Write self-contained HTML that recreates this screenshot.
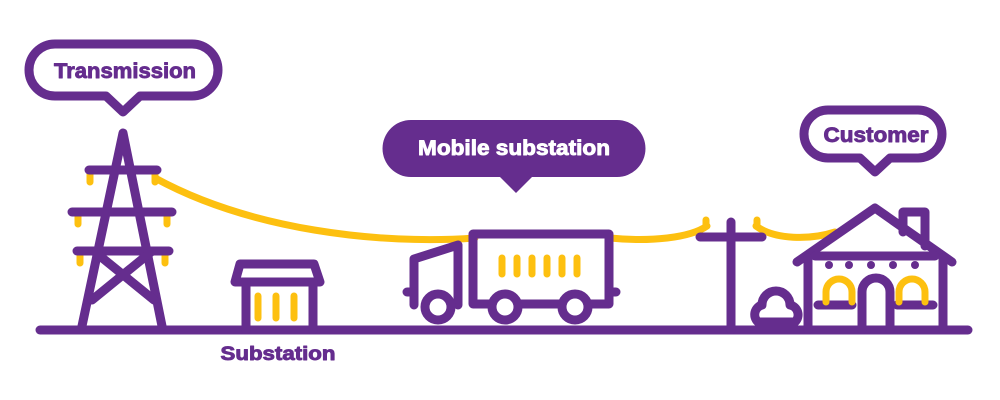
<!DOCTYPE html>
<html><head><meta charset="utf-8"><style>
html,body{margin:0;padding:0;background:#fff;width:1000px;height:400px;overflow:hidden}
text{font-family:"Liberation Sans",sans-serif;font-weight:bold;stroke-width:0.9;stroke-linejoin:round}
</style></head><body>
<svg width="1000" height="400" viewBox="0 0 1000 400" xmlns="http://www.w3.org/2000/svg">
<g fill="none" stroke-linecap="round" stroke-linejoin="round">
<g stroke="#fdc010" stroke-width="7">
<path d="M155,178 C250,230 380,245 475,238"/>
<path d="M610,238 C650,242 690,238 707,226"/>
<path d="M756,226 C775,240 810,240 835,232"/>
<path d="M90,173 v9 M155,173 v9 M78,215 v9 M167,215 v9 M80,254 v9 M165,254 v9"/>
<path d="M706,226 v-6 M757,226 v-6"/>
</g>
<g stroke="#652d8e" stroke-width="9">
<path d="M40,330 H968"/>
<path d="M82,326 L123,133 L162,326"/>
<path d="M89,170 H157 M72,212 H172 M77,251 H169"/>
<path d="M95,252 L154,300 M151,252 L92,300"/>
<path d="M55,44 H192 A26,26 0 0 1 192,96 H140 L123,112 L106,96 H55 A26,26 0 0 1 55,44 Z"/>
<path d="M240,264 H314 L320,282 H235 Z"/>
<path d="M246,282 V330 M313,282 V330"/>
<path d="M473,234 H609 V304 H473 Z"/>
<path d="M414,305 V259 L458,245 V305"/>
<path d="M407,292 H414 M609,292 H616"/>
<path d="M731,222 V330 M700,237 H762"/>
<path d="M797,262 L875,208 L952,262"/>
<path d="M808,258 V330 M943,258 V330 M815,256 H935"/>
<path d="M903,232 V212 H925 V246"/>
<path d="M862,330 V292 A14,14 0 0 1 890,292 V330"/>
<path d="M818,305 H852 M897,305 H933"/>
<path d="M758,322 A10,10 0 0 1 762,305 A14,14 0 0 1 790,305 A10,10 0 0 1 795,322 Z"/>
<path d="M828,110 H918 A24,24 0 0 1 918,158 H890 L875,172 L860,158 H828 A24,24 0 0 1 828,110 Z"/>
</g>
<g fill="#652d8e">
<circle cx="829" cy="265" r="4"/><circle cx="849" cy="265" r="4"/><circle cx="871" cy="265" r="4"/><circle cx="893" cy="265" r="4"/><circle cx="915" cy="265" r="4"/>
</g>
<g stroke="#fdc010" stroke-width="7">
<path d="M258,296 V318 M276,296 V318 M294,296 V318"/>
<path d="M502,258 V274 M517,258 V274 M532,258 V274 M547,258 V274 M562,258 V274 M577,258 V274"/>
<path d="M826,302 V292 A13,13 0 0 1 852,292 V302 M899,302 V292 A13,13 0 0 1 925,292 V302"/>
</g>
<g stroke="#652d8e" stroke-width="9" fill="#fff">
<circle cx="438" cy="307" r="13"/><circle cx="505" cy="307" r="13"/><circle cx="575" cy="307" r="13"/>
</g>
</g>
<path d="M411,120 H617 A28,28 0 0 1 617,177 H532 L516,193 L500,177 H411 A28,28 0 0 1 411,120 Z" fill="#652d8e"/>
<text x="125" y="78" font-size="21.5" fill="#652d8e" stroke="#652d8e" text-anchor="middle" textLength="142" lengthAdjust="spacingAndGlyphs">Transmission</text>
<text x="514" y="155" font-size="21" fill="#fff" stroke="#fff" text-anchor="middle" textLength="192" lengthAdjust="spacingAndGlyphs">Mobile substation</text>
<text x="876" y="142" font-size="21" fill="#652d8e" stroke="#652d8e" text-anchor="middle" textLength="105" lengthAdjust="spacingAndGlyphs">Customer</text>
<text x="278" y="360" font-size="19" fill="#652d8e" stroke="#652d8e" text-anchor="middle" textLength="115" lengthAdjust="spacingAndGlyphs">Substation</text>
</svg>
</body></html>
